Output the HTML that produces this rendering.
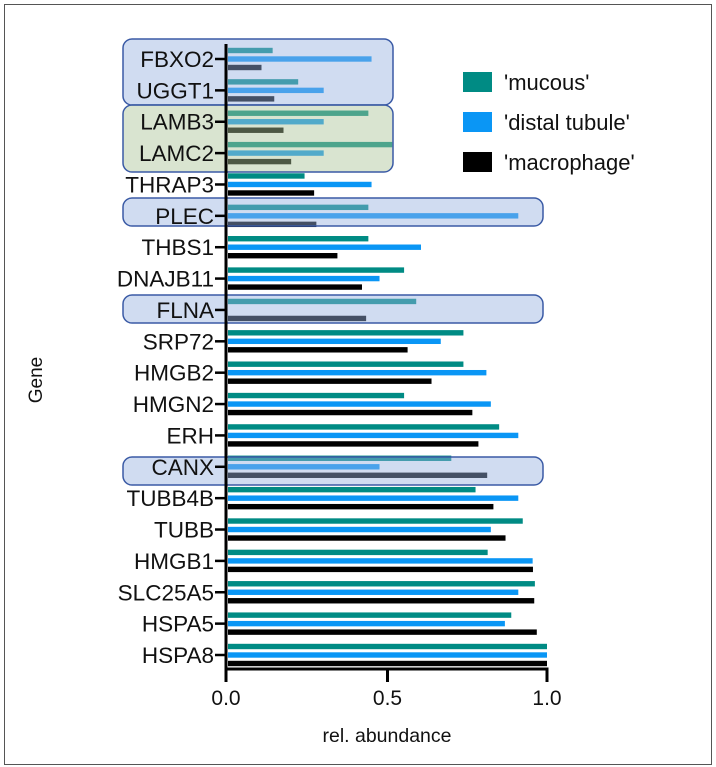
<!DOCTYPE html>
<html><head><meta charset="utf-8">
<style>
html,body{margin:0;padding:0;background:#fff;}
svg{display:block;font-family:"Liberation Sans",Arial,sans-serif;}
</style></head>
<body>
<svg id="chart" width="716" height="767" viewBox="0 0 716 767" xmlns="http://www.w3.org/2000/svg">
<rect x="4.5" y="4.5" width="707" height="760" fill="#fff" stroke="#555" stroke-width="1"/>
<g id="bars"></g>
<g id="boxes"></g>
<g id="axes"></g>
<g id="legend"></g>
</svg>
<script>
const genes=["FBXO2","UGGT1","LAMB3","LAMC2","THRAP3","PLEC","THBS1","DNAJB11","FLNA","SRP72","HMGB2","HMGN2","ERH","CANX","TUBB4B","TUBB","HMGB1","SLC25A5","HSPA5","HSPA8"];
const mucous=[0.14,0.22,0.44,0.515,0.24,0.44,0.44,0.552,0.59,0.738,0.738,0.552,0.85,0.70,0.776,0.924,0.814,0.962,0.888,1.0];
const distal=[0.45,0.30,0.30,0.30,0.45,0.91,0.605,0.475,0,0.667,0.81,0.824,0.91,0.475,0.91,0.824,0.955,0.91,0.868,1.0];
const macro=[0.105,0.145,0.174,0.198,0.27,0.277,0.343,0.42,0.433,0.563,0.638,0.766,0.785,0.8125,0.832,0.87,0.956,0.96,0.968,1.0];
const xTicks=[0,0.5,1.0];
const xTickLabels=["0.0","0.5","1.0"];
const seriesNames=["'mucous'","'distal tubule'","'macrophage'"];
const colors=["#008b84","#0a96f5","#000000"];

const NS="http://www.w3.org/2000/svg";
const X0=228, XS=319;
const x=v=>X0+v*XS;
const y=i=>59+i*(655-59)/(genes.length-1);
function mk(tag,attrs,parent,text){const e=document.createElementNS(NS,tag);for(const k in attrs)e.setAttribute(k,attrs[k]);if(text!==undefined)e.textContent=text;parent.appendChild(e);return e;}

const bars=document.getElementById('bars');
const series=[mucous,distal,macro];
const offs=[-8.5,0,8.5];
genes.forEach((g,i)=>{
  series.forEach((s,k)=>{
    if(s[i]<=0)return;
    const r=mk('rect',{x:X0,y:y(i)+offs[k]-2.7,width:x(s[i])-X0,height:5.4,fill:colors[k]},bars);
    
    
  });
});

const boxes=document.getElementById('boxes');
const boxDefs=[[123,39,270,66,"rgba(150,178,225,0.45)","highlight-fbxo2-uggt1"],[123,105,270,67,"rgba(170,195,150,0.45)","highlight-lamb3-lamc2"],[123,198,420,28,"rgba(150,178,225,0.45)","highlight-plec"],[123,295,420,28,"rgba(150,178,225,0.45)","highlight-flna"],[123,457,420,28,"rgba(150,178,225,0.45)","highlight-canx"]];
boxDefs.forEach(b=>{
  const r=mk('rect',{x:b[0],y:b[1],width:b[2],height:b[3],rx:9,fill:b[4],stroke:"#3a5aa5","stroke-width":1.5},boxes);
  
  
});

const axes=document.getElementById('axes');
let e=mk('line',{x1:226,y1:44,x2:226,y2:671,stroke:"#000","stroke-width":3},axes);

e=mk('line',{x1:224.5,y1:669,x2:x(1)+1.5,y2:669,stroke:"#000","stroke-width":3},axes);

xTicks.forEach((t,i)=>{
  const tx=i==0?226:x(t);
  mk('line',{x1:tx,y1:669,x2:tx,y2:682,stroke:"#000","stroke-width":3},axes);
  const l=mk('text',{x:tx,y:705,"text-anchor":"middle","font-size":21,fill:"#111"},axes,xTickLabels[i]);
  
});
genes.forEach((g,i)=>{
  mk('line',{x1:215,y1:y(i),x2:226,y2:y(i),stroke:"#000","stroke-width":2.5},axes);
  const l=mk('text',{x:214,y:y(i)+8,"text-anchor":"end","font-size":22.5,fill:"#111"},axes,g);
  
});
e=mk('text',{x:387,y:742,"text-anchor":"middle","font-size":19.5,fill:"#111"},axes,"rel. abundance");

e=mk('text',{x:0,y:0,"text-anchor":"middle","font-size":19,fill:"#111",transform:"translate(42,380) rotate(-90)"},axes,"Gene");


const leg=document.getElementById('legend');
seriesNames.forEach((n,k)=>{
  const yy=72+k*40;
  const r=mk('rect',{x:463,y:yy,width:29,height:20,fill:colors[k]},leg);
  
  const t=mk('text',{x:504,y:yy+18,"font-size":22,fill:"#111"},leg,n);
  
});
</script>
</body></html>
